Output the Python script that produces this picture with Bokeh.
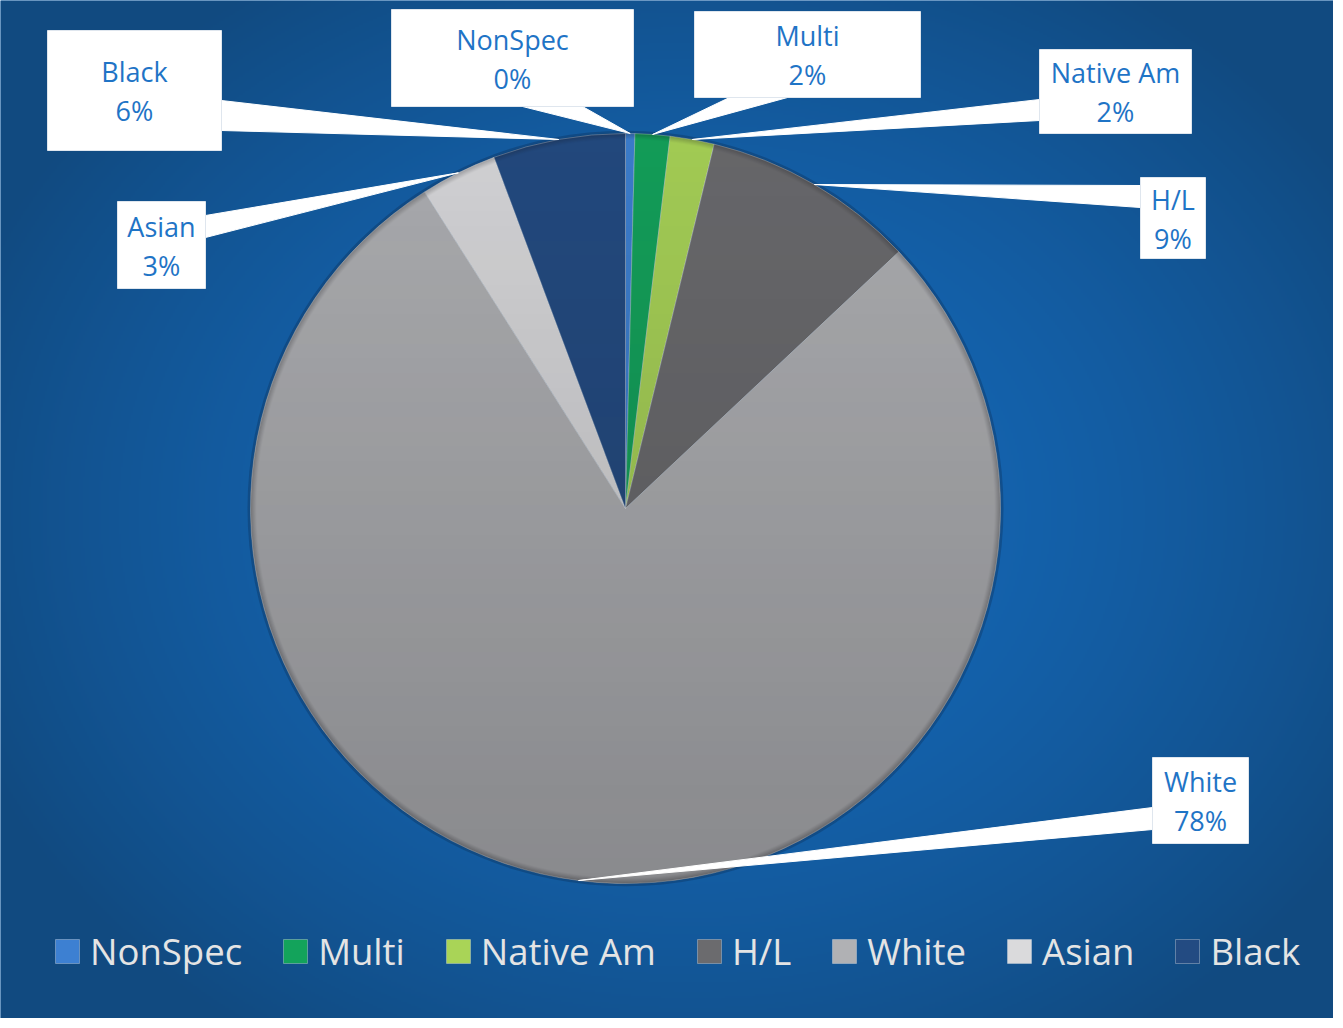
import numpy as np
from bokeh.plotting import figure
from bokeh.models import ColumnDataSource, Range1d, Legend, LegendItem
from bokeh.core.properties import value
from bokeh.embed import file_html
from bokeh.resources import INLINE

# ---------------- data ----------------
categories = ["NonSpec", "Multi", "Native Am", "H/L", "White", "Asian", "Black"]
shares = [0.4, 1.5, 1.9, 9.2, 78.0, 3.3, 5.7]
colors = ["#3d80d2", "#13a35b", "#a9d457", "#6b6b6e", "#b0b1b4", "#dadadc", "#234b82"]

# ---------------- layout ----------------
W, H = 1333, 1018
FONT = "Open Sans"


def px(x):
    return x - 8


def py(y):
    return H - (y - 8)


CX, CY, R = px(633), py(516), 375

# label boxes in page pixels: left, top, right, bottom
label_boxes = {
    "NonSpec": (399, 17, 641, 114),
    "Multi": (702, 19, 928, 105),
    "Native Am": (1047, 57, 1199, 141),
    "H/L": (1148, 185, 1213, 266),
    "White": (1160, 765, 1256, 851),
    "Asian": (125, 209, 213, 296),
    "Black": (55, 38, 229, 158),
}
# base of each leader (two points on box edge), page pixels
leader_bases = {
    "NonSpec": ((530, 114), (590, 114)),
    "Multi": ((737, 105), (795, 105)),
    "Native Am": ((1047, 107), (1047, 128)),
    "H/L": ((1148, 193), (1148, 215)),
    "White": ((1160, 815), (1160, 837)),
    "Asian": ((213, 223), (213, 245)),
    "Black": ((229, 108), (229, 138)),
}

p = figure(width=W, height=H, output_backend="svg", toolbar_location=None,
           x_range=Range1d(0, W), y_range=Range1d(0, H), min_border=0)
p.axis.visible = False
p.grid.visible = False
p.outline_line_color = None
p.background_fill_color = "#1360ac"
p.border_fill_color = "#1360ac"

# ---------------- background radial gradient ----------------
bw, bh = W // 2, H // 2
gx, gy = np.meshgrid(np.linspace(0, W, bw), np.linspace(0, H, bh))
gcx, gcy = px(700), py(520)
d = np.sqrt(((gx - gcx) / 780.0) ** 2 + ((gy - gcy) / 640.0) ** 2)
d = np.clip(d, 0, 1)
inner = np.array([0x15, 0x69, 0xb9], dtype=float)
outer = np.array([0x11, 0x4a, 0x80], dtype=float)
t = d ** 1.6
rgb = inner[None, None, :] * (1 - t[..., None]) + outer[None, None, :] * t[..., None]
bg = np.empty((bh, bw), dtype=np.uint32)
v = bg.view(dtype=np.uint8).reshape((bh, bw, 4))
v[..., 0] = rgb[..., 0].astype(np.uint8)
v[..., 1] = rgb[..., 1].astype(np.uint8)
v[..., 2] = rgb[..., 2].astype(np.uint8)
v[..., 3] = 255
p.image_rgba(image=[bg], x=0, y=0, dw=W, dh=H)

# ---------------- pie ----------------
vals = np.array(shares, dtype=float)
frac = vals / vals.sum()
c1 = np.cumsum(frac)
c0 = c1 - frac
theta_a = np.pi / 2 - 2 * np.pi * c0
theta_b = np.pi / 2 - 2 * np.pi * c1
mid = (theta_a + theta_b) / 2

src = ColumnDataSource(dict(
    cat=categories, start=theta_b, end=theta_a, color=colors,
    x=[CX] * len(categories), y=[CY] * len(categories),
))

# soft shadow ring behind pie
p.circle(x=[CX], y=[CY], radius=R + 3, fill_color="#0b2f55", fill_alpha=0.35, line_color=None)

wr = p.wedge(x="x", y="y", radius=R, start_angle="start", end_angle="end",
             fill_color="color", line_color="#e8e8e8", line_alpha=0.35, line_width=1,
             source=src)

# vertical shading overlay inside the pie
n = 2 * R + 6
ox, oy = CX - R - 3, CY - R - 3
xx, yy = np.meshgrid(np.arange(n) + 0.5 + ox, np.arange(n) + 0.5 + oy)
dist = np.sqrt((xx - CX) ** 2 + (yy - CY) ** 2)
cover = np.clip(R - dist + 0.5, 0, 1)
tt = np.clip((CY + R - yy) / (2 * R), 0, 1)
alpha = (0.05 + 0.20 * tt) * cover
rim = np.clip((dist - (R - 6)) / 6, 0, 1) * cover * 0.25
alpha = np.clip(alpha + rim, 0, 1)
ov = np.empty((n, n), dtype=np.uint32)
ovv = ov.view(dtype=np.uint8).reshape((n, n, 4))
ovv[..., 0] = 20
ovv[..., 1] = 20
ovv[..., 2] = 24
ovv[..., 3] = (alpha * 255).astype(np.uint8)
p.image_rgba(image=[ov], x=ox, y=oy, dw=n, dh=n)

# ---------------- leaders ----------------
lxs, lys = [], []
for i, cat in enumerate(categories):
    (ax, ay), (bx, by) = leader_bases[cat]
    tx = CX + R * np.cos(mid[i])
    ty = CY + R * np.sin(mid[i])
    lxs.append([px(ax), px(bx), tx])
    lys.append([py(ay), py(by), ty])
p.patches(xs=lxs, ys=lys, fill_color="white", line_color="white", line_width=1)

# ---------------- label boxes ----------------
bl, bt, br, bb = [], [], [], []
tx1, ty1, tx2, ty2, t1, t2 = [], [], [], [], [], []
for i, cat in enumerate(categories):
    l, tp, r, b = label_boxes[cat]
    bl.append(px(l)); br.append(px(r)); bt.append(py(tp)); bb.append(py(b))
    cxl = px((l + r) / 2)
    cyl = py((tp + b) / 2)
    tx1.append(cxl); ty1.append(cyl + 19)
    tx2.append(cxl); ty2.append(cyl - 20)
    t1.append(cat)
    t2.append(f"{vals[i]:.0f}%")
p.quad(left=bl, right=br, top=bt, bottom=bb, fill_color="white", line_color="#dfe6ee", line_width=1)
p.text(x=tx1, y=ty1, text=t1, text_align="center", text_baseline="middle",
       text_font=value(FONT), text_font_size="27px", text_color="#1f74c6")
p.text(x=tx2, y=ty2, text=t2, text_align="center", text_baseline="middle",
       text_font=value(FONT), text_font_size="27px", text_color="#1f74c6")

# ---------------- legend ----------------
items = [LegendItem(label=cat, renderers=[wr], index=i) for i, cat in enumerate(categories)]
legend = Legend(items=items, orientation="horizontal", location=(52, 42),
                glyph_width=30, glyph_height=30, label_standoff=8, spacing=38,
                padding=0, margin=0, border_line_color=None, background_fill_alpha=0,
                label_text_font=FONT, label_text_font_size="36.5px",
                label_text_color="#e4e4e4", label_height=40)
p.add_layout(legend, "center")

open("out.html", "w").write(file_html(p, INLINE))
